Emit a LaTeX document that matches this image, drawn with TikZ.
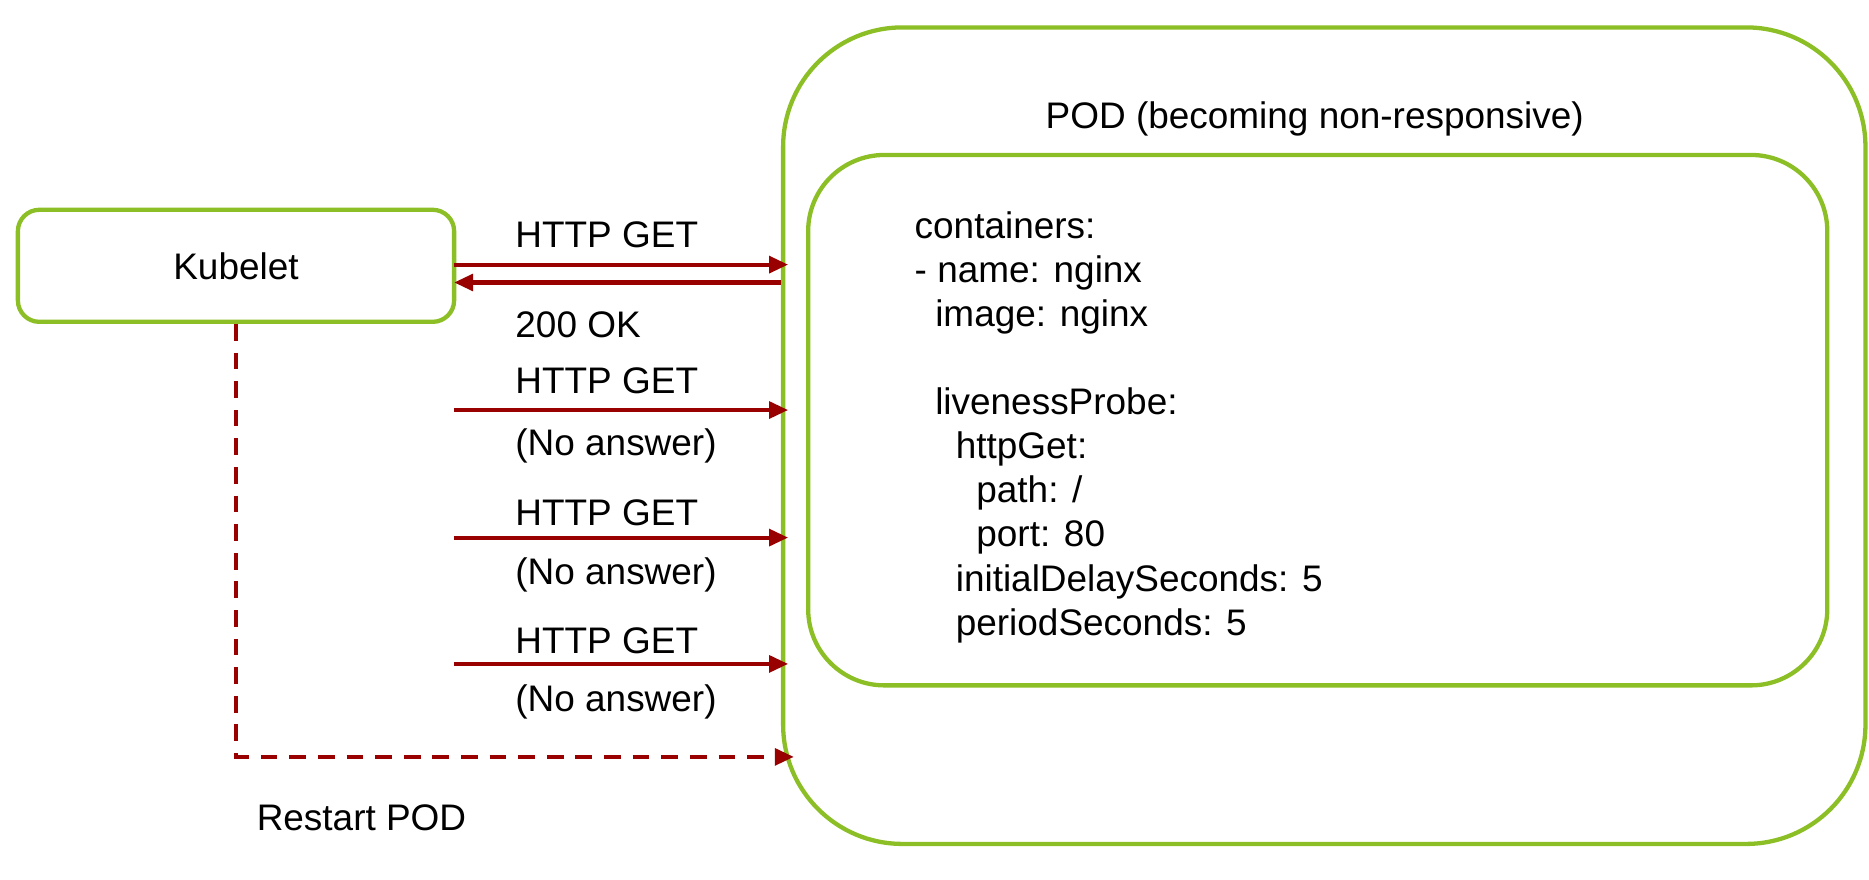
\documentclass[tikz,border=0pt]{standalone}
\usepackage{fontspec}
\setmainfont{Liberation Sans}
\usetikzlibrary{arrows.meta,positioning}
\definecolor{podgreen}{RGB}{140,191,38}
\definecolor{probered}{RGB}{153,0,0}
\tikzset{
  greenbox/.style={draw=podgreen, line width=1.8pt, rounded corners=#1},
  probe/.style={color=probered, line width=1.7pt, shorten >=-3pt, -{Triangle[length=8pt,width=7pt]}},
  lbl/.style={anchor=base west, inner sep=0pt},
}
\begin{document}
\begin{tikzpicture}[x=0.5pt,y=-0.5pt,font=\fontsize{15.5}{18.5}\selectfont]
\useasboundingbox (0,0) rectangle (1568,738);
% les boites
\node[greenbox=50pt, minimum width=454pt, minimum height=342.5pt] (pod) at (1111,365.5) {};
\node[greenbox=32pt, minimum width=427.5pt, minimum height=222.5pt] (spec) at (1105.5,352.5) {};
\node[greenbox=9pt, minimum width=183pt, minimum height=47pt] (kube) at (198,223) {Kubelet};
\node[lbl, anchor=base] (title) at (1103,108) {POD (becoming non-responsive)};
% le manifeste du conteneur
\node[anchor=north west, inner sep=0pt, align=left] (yaml) at (767,177) {containers:\\
- name: nginx\\
\hspace*{0.556em}image: nginx\\[18.5pt]
\hspace*{0.556em}livenessProbe:\\
\hspace*{1.112em}httpGet:\\
\hspace*{1.668em}path: /\\
\hspace*{1.668em}port: 80\\
\hspace*{1.112em}initialDelaySeconds: 5\\
\hspace*{1.112em}periodSeconds: 5};
% les sondes
\coordinate (g1) at (381,222);
\coordinate (r1) at (381,237);
\coordinate (g2) at (381,344);
\coordinate (g3) at (381,451);
\coordinate (g4) at (381,557);
\coordinate (rp) at (660,635);
\draw[probe] (g1) -- (g1 -| pod.west);
\draw[probe, shorten >=0pt] (r1 -| pod.west) -- (r1);
\draw[probe] (g2) -- (g2 -| pod.west);
\draw[probe] (g3) -- (g3 -| pod.west);
\draw[probe] (g4) -- (g4 -| pod.west);
\node[lbl] (get1) at (432,208) {HTTP GET};
\node[lbl] (ok1) at (432,283) {200 OK};
\node[lbl] (get2) at (432,330) {HTTP GET};
\node[lbl] (no2) at (432,382) {(No answer)};
\node[lbl] (get3) at (432,441) {HTTP GET};
\node[lbl] (no3) at (432,490) {(No answer)};
\node[lbl] (get4) at (432,548) {HTTP GET};
\node[lbl] (no4) at (432,597) {(No answer)};
% le redemarrage
\draw[probe, dash pattern=on 7pt off 5pt] (kube.south) |- (rp);
\node[lbl] (restart) at (215,697) {Restart POD};
\end{tikzpicture}
\end{document}
